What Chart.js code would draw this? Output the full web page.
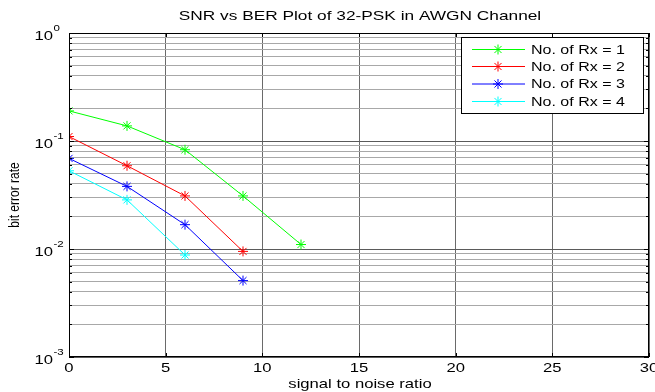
<!DOCTYPE html>
<html>
<head>
<meta charset="utf-8">
<title>SNR vs BER Plot of 32-PSK in AWGN Channel</title>
<script src="https://cdn.jsdelivr.net/npm/chart.js@4/dist/chart.umd.min.js"></script>
<style>
  html, body { margin: 0; padding: 0; background: #fff; }
  canvas { display: block; }
</style>
</head>
<body>
<canvas id="ber_chart" width="655" height="392"></canvas>
<script>
// SNR points and BER per receiver count
const snr = [0, 3, 6, 9, 12];
const berRx1 = [0.19, 0.138, 0.083, 0.031, 0.011];
const berRx2 = [0.11, 0.059, 0.031, 0.0095];
const berRx3 = [0.069, 0.038, 0.0168, 0.0051];
const berRx4 = [0.053, 0.0285, 0.0088];
const seriesNames = ['No. of Rx = 1', 'No. of Rx = 2', 'No. of Rx = 3', 'No. of Rx = 4'];
const seriesColors = ['#00ff00', '#ff0000', '#0000ff', '#00ffff'];
const xTicks = [0, 5, 10, 15, 20, 25, 30];
const yDecades = [-3, -2, -1, 0];

const FONT = '"Liberation Sans", Arial, sans-serif';
const STRETCH = 1.28; // figure text is a bit wide

// log ticks: 1..9 in every decade, plus the top 10^0
const yTicks = [];
for (let e = -3; e < 0; e++) {
  for (let m = 1; m <= 9; m++) yTicks.push(m * Math.pow(10, e));
}
yTicks.push(1);

const isDecade = (v) => {
  const l = Math.log10(v);
  return Math.abs(l - Math.round(l)) < 1e-9;
};

const toPoints = (ys) => ys.map((v, i) => ({ x: snr[i], y: v }));
const allSeries = [berRx1, berRx2, berRx3, berRx4];

const datasets = allSeries.map((ys, i) => ({
  label: seriesNames[i],
  data: toPoints(ys),
  borderColor: seriesColors[i],
  backgroundColor: seriesColors[i],
  borderWidth: 1,
  pointStyle: 'star',
  pointRadius: 5,
  pointBorderWidth: 1,
  fill: false,
  tension: 0
}));

function wideText(ctx, text, x, y, size, align, baseline, rotate) {
  ctx.save();
  ctx.translate(x, y);
  ctx.scale(STRETCH, 1);
  if (rotate) ctx.rotate(-Math.PI / 2);
  ctx.font = size + 'px ' + FONT;
  ctx.textAlign = align;
  ctx.textBaseline = baseline;
  ctx.fillText(text, 0, 0);
  ctx.restore();
}

// text, box, inner ticks and legend drawn like the matlab figure
const figureDecor = {
  id: 'figureDecor',
  afterDraw(chart) {
    const { ctx, chartArea: a, scales: { x, y } } = chart;
    ctx.save();

    // axes box
    ctx.strokeStyle = '#000';
    ctx.lineWidth = 1;
    ctx.strokeRect(a.left + 0.5, a.top + 0.5, a.right - a.left - 1, a.bottom - a.top - 1);

    // inner tick marks
    ctx.beginPath();
    yTicks.forEach((v) => {
      const py = Math.round(y.getPixelForValue(v)) + 0.5;
      const len = isDecade(v) ? 5 : 3;
      ctx.moveTo(a.left, py); ctx.lineTo(a.left + len, py);
      ctx.moveTo(a.right, py); ctx.lineTo(a.right - len, py);
    });
    xTicks.forEach((v) => {
      const px = Math.round(x.getPixelForValue(v)) + 0.5;
      ctx.moveTo(px, a.bottom); ctx.lineTo(px, a.bottom - 4);
      ctx.moveTo(px, a.top); ctx.lineTo(px, a.top + 4);
    });
    ctx.stroke();

    ctx.fillStyle = '#000';

    // x tick labels
    xTicks.forEach((v) => {
      wideText(ctx, String(v), x.getPixelForValue(v), a.bottom + 5, 13, 'center', 'top');
    });

    // y tick labels as 10 with a raised exponent
    yDecades.forEach((e) => {
      const py = y.getPixelForValue(Math.pow(10, e));
      wideText(ctx, '10', 53, py + 3, 13, 'right', 'middle');
      wideText(ctx, String(e), 53.5, py - 4, 9, 'left', 'middle');
    });

    // title and axis titles
    const cx = (a.left + a.right) / 2 + 1;
    wideText(ctx, 'SNR vs BER Plot of 32-PSK in AWGN Channel', cx, 16, 13.5, 'center', 'middle');
    wideText(ctx, 'signal to noise ratio', cx, 384, 13, 'center', 'middle');
    wideText(ctx, 'bit error rate', 15, (a.top + a.bottom) / 2, 12, 'center', 'middle', true);

    // legend box inside the axes, top right
    const lx = 461, ly = 37, lw = 182, lh = 76;
    ctx.fillStyle = '#fff';
    ctx.fillRect(lx, ly, lw, lh);
    ctx.strokeStyle = '#000';
    ctx.strokeRect(lx + 0.5, ly + 0.5, lw, lh);
    const rowY = [49.5, 66.5, 84, 101.5];
    seriesNames.forEach((name, i) => {
      const ry = rowY[i];
      ctx.strokeStyle = seriesColors[i];
      ctx.lineWidth = 1;
      ctx.beginPath();
      ctx.moveTo(472, ry); ctx.lineTo(525, ry);
      ctx.stroke();
      Chart.helpers.drawPoint(ctx, { pointStyle: 'star', radius: 5, borderWidth: 1 }, 498, ry);
      ctx.fillStyle = '#000';
      wideText(ctx, name, 531, ry + 1, 12.5, 'left', 'middle');
    });

    ctx.restore();
  }
};

new Chart(document.getElementById('ber_chart'), {
  type: 'line',
  data: { datasets: datasets },
  options: {
    responsive: false,
    animation: false,
    layout: { padding: { left: 69, top: 33, right: 4, bottom: 35 } },
    plugins: {
      legend: { display: false },
      tooltip: { enabled: false },
      title: { display: false }
    },
    scales: {
      x: {
        type: 'linear',
        min: 0,
        max: 30,
        afterBuildTicks: (scale) => { scale.ticks = xTicks.map((v) => ({ value: v })); },
        ticks: { display: false },
        border: { display: false },
        grid: { color: '#6a6a6a', drawTicks: false, lineWidth: 1 }
      },
      y: {
        type: 'logarithmic',
        min: 0.001,
        max: 1,
        afterBuildTicks: (scale) => { scale.ticks = yTicks.map((v) => ({ value: v })); },
        ticks: { display: false },
        border: { display: false },
        grid: {
          color: (c) => (c.tick && isDecade(c.tick.value) ? '#5a5a5a' : '#a8a8a8'),
          drawTicks: false,
          lineWidth: 1
        }
      }
    }
  },
  plugins: [figureDecor]
});
</script>
</body>
</html>
